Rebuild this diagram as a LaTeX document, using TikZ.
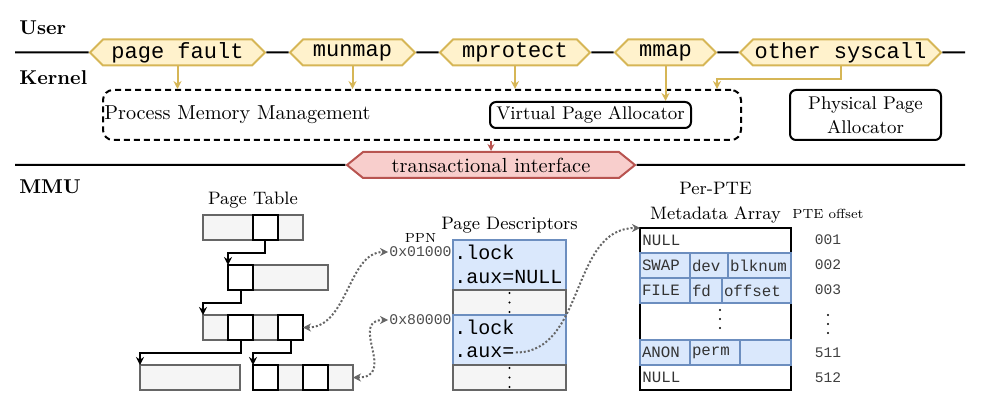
\documentclass[tikz,border=0pt]{standalone}
\usepackage{fontspec}
\setmonofont{Liberation Mono}
\usepackage{tikz}
\usetikzlibrary{arrows.meta, positioning, shapes.symbols, calc}

\definecolor{callfill}{HTML}{FFF2CC}
\definecolor{calldraw}{HTML}{D6B656}
\definecolor{txfill}{HTML}{F8CECC}
\definecolor{txdraw}{HTML}{B85450}
\definecolor{descfill}{HTML}{DAE8FC}
\definecolor{descdraw}{HTML}{6C8EBF}
\definecolor{pagefill}{HTML}{F5F5F5}
\definecolor{pagedraw}{HTML}{666666}

\begin{document}
\begin{tikzpicture}[x=0.5pt, y=-0.5pt,
        layer/.style={anchor=west, inner sep=0pt, font=\bfseries\fontsize{10}{12}\selectfont},
        syscall/.style={signal, signal to=east and west, signal pointer angle=90, draw=calldraw, fill=callfill, line width=1pt, minimum height=13pt, inner sep=0pt, font=\ttfamily\fontsize{11}{13}\selectfont},
        txbox/.style={signal, signal to=east and west, signal pointer angle=78, draw=txdraw, fill=txfill, line width=1pt, minimum height=13pt, inner sep=0pt, font=\fontsize{10.2}{12}\selectfont},
        box/.style={draw, rounded corners=3pt, line width=1pt, align=center, inner sep=0pt, font=\fontsize{9.2}{12}\selectfont},
        dashedbox/.style={draw, dashed, dash pattern=on 3pt off 2pt, rounded corners=5pt, line width=1pt, inner sep=0pt},
        callarrow/.style={-{Stealth[length=4pt, width=4pt]}, draw=calldraw, line width=1pt},
        txarrow/.style={-{Stealth[length=3.5pt, width=3.5pt]}, draw=txdraw, line width=1pt},
        ptrow/.style={draw=pagedraw, fill=pagefill, line width=1pt, minimum width=50pt, minimum height=12.5pt, inner sep=0pt, outer sep=0pt},
        ptentry/.style={draw, fill=white, line width=1pt, minimum size=12.5pt, inner sep=0pt, outer sep=0pt},
        ptarrow/.style={-{Stealth[length=4pt, width=4pt]}, line width=1pt},
        heading/.style={font=\fontsize{9}{12.5}\selectfont, inner sep=1pt, align=center},
        small/.style={font=\fontsize{6.6}{8}\selectfont, inner sep=0.5pt},
        descbox/.style={draw=descdraw, fill=descfill, line width=1pt, minimum width=56.5pt, minimum height=25pt, inner sep=0pt, outer sep=0pt},
        descgap/.style={draw=pagedraw, fill=pagefill, line width=1pt, minimum width=56.5pt, minimum height=12.5pt, inner sep=0pt, outer sep=0pt},
        field/.style={anchor=west, inner sep=0.5pt, font=\ttfamily\fontsize{10}{12}\selectfont},
        ppn/.style={anchor=east, inner sep=0.5pt, text=black!70, font=\ttfamily\fontsize{7.4}{9}\selectfont},
        mcell/.style={draw=descdraw, fill=descfill, line width=1pt, text width=#1, minimum height=12.5pt, inner xsep=1pt, inner ysep=0pt, outer sep=0pt, align=left, text=black!80, font=\ttfamily\fontsize{7.9}{9}\selectfont},
        mtext/.style={anchor=west, inner sep=1pt, text=black!80, font=\ttfamily\fontsize{7.9}{9}\selectfont},
        offset/.style={inner sep=0.5pt, text=black!75, font=\ttfamily\fontsize{7.3}{9}\selectfont},
        dotlink/.style={draw=pagedraw, line width=1pt, dash pattern=on 1pt off 1pt},
        dotdouble/.style={dotlink, {Stealth[length=4pt, width=4pt]}-{Stealth[length=4pt, width=4pt]}},
        dotarrow/.style={dotlink, -{Stealth[length=4pt, width=4pt]}}
    ]
    \useasboundingbox (0,0) rectangle (994,411);

    % Layers
    \node[layer] (user) at (19,27.5) {User};
    \node[layer] (kernel) at (19,77.5) {Kernel};
    \node[layer] (mmu) at (19,187) {MMU};
    \coordinate (ul) at (15,52.5);
    \coordinate (ur) at (965,52.5);
    \coordinate (kl) at (15,165);
    \coordinate (kr) at (965,165);

    % System calls
    \node[syscall, minimum width=87.5pt] (pf) at (177.5,52.5) {page fault};
    \node[syscall, minimum width=62.5pt] (munmap) at (352.5,52.5) {munmap};
    \node[syscall, minimum width=75pt] (mprotect) at (515,52.5) {mprotect};
    \node[syscall, minimum width=50.5pt] (mmap) at (665.5,52.5) {mmap};
    \node[syscall, minimum width=100.5pt] (other) at (840.5,52.5) {other syscall};
    \draw[line width=1pt] (ul) -- (pf) -- (munmap) -- (mprotect) -- (mmap) -- (other) -- (ur);

    % Kernel
    \node[dashedbox, minimum width=319pt, minimum height=25pt] (pmm) at (422,115) {};
    \node[anchor=west, inner sep=1pt, font=\fontsize{10.1}{12}\selectfont] (pmmtext) at (pmm.west) {Process Memory Management};
    \node[box, minimum width=100.5pt, minimum height=13pt] (vpa) at (590.5,115) {Virtual Page Allocator};
    \node[box, minimum width=75.5pt, minimum height=25pt] (ppa) at (865.5,115) {Physical Page\\Allocator};
    \coordinate (pmmin) at ($(pmm.north east)+(-25,0)$);

    \draw[callarrow] (pf.south) -- (pf.south |- pmm.north);
    \draw[callarrow] (munmap.south) -- (munmap.south |- pmm.north);
    \draw[callarrow] (mprotect.south) -- (mprotect.south |- pmm.north);
    \draw[callarrow] (mmap.south) -- (mmap.south |- vpa.north);
    \draw[callarrow] (other.south) -- ++(0,13) -| (pmmin);

    % Transactional interface
    \node[txbox, minimum width=144pt] (trans) at (491,165) {transactional interface};
    \draw[line width=1pt] (kl) -- (trans) -- (kr);
    \draw[txarrow] (trans.north |- pmm.south) -- (trans.north);

    % Page table
    \node[ptrow] (r1) at (253,227.5) {};
    \node[ptentry] (e1) at (265,227.5) {};
    \node[ptrow] (r2) at (278,277.5) {};
    \node[ptentry, anchor=west] (e2) at (r2.west) {};
    \node[ptrow] (r3) at (253,327.5) {};
    \node[ptentry] (e3a) at (240.5,327.5) {};
    \node[ptentry, anchor=east] (e3b) at (r3.east) {};
    \node[ptrow] (r4a) at (190,377.5) {};
    \node[ptrow] (r4b) at (303,377.5) {};
    \node[ptentry, anchor=west] (e4a) at (r4b.west) {};
    \node[ptentry] (e4b) at (315.5,377.5) {};
    \node[heading, above=2pt of r1] (pttitle) {Page Table};

    \draw[ptarrow] (e1.south) -- ++(0,12.5) -| (r2.north west);
    \draw[ptarrow] (e2.south) -- ++(0,12.5) -| (r3.north west);
    \draw[ptarrow] (e3a.south) -- ++(0,12.5) -| (r4a.north west);
    \draw[ptarrow] (e3b.south) -- ++(0,12.5) -| (r4b.north west);

    % Page descriptors
    \node[descbox] (pd1) at (509.5,265) {};
    \node[descgap, below=0pt of pd1] (gap1) {};
    \node[descbox, below=0pt of gap1] (pd2) {};
    \node[descgap, below=0pt of pd2] (gap2) {};
    \node[field] (lock1) at ([yshift=6.25pt]pd1.west) {.lock};
    \node[field] (aux1) at ([yshift=-6.25pt]pd1.west) {.aux=NULL};
    \node[field] (lock2) at ([yshift=6.25pt]pd2.west) {.lock};
    \node[field] (aux2) at ([yshift=-6.25pt]pd2.west) {.aux=};
    \foreach \g in {gap1, gap2}
        \foreach \d in {-9.5,0,9.5}
            \fill ($(\g.center)+(0,\d)$) circle (0.6pt);
    \node[heading, above=2pt of pd1] (pdtitle) {Page Descriptors};
    \node[ppn] (ppn1) at ([yshift=-6pt]pd1.north west) {0x01000};
    \node[ppn] (ppn2) at ([yshift=-2.5pt]pd2.north west) {0x80000};
    \node[small, above=1pt of ppn1] (ppnlabel) {PPN};

    % Per-PTE metadata array
    \node[draw, line width=1pt, minimum width=75.5pt, minimum height=81pt, inner sep=0pt, outer sep=0pt] (meta) at (715.5,309) {};
    \node[mcell=23pt, anchor=north west] (swap) at ($(meta.north west)+(0,25)$) {SWAP};
    \node[mcell=17pt, right=0pt of swap] (dev) {dev};
    \node[mcell=29.5pt, right=0pt of dev] (blknum) {blknum};
    \node[mcell=23pt, below=0pt of swap] (file) {FILE};
    \node[mcell=14pt, right=0pt of file] (fd) {fd};
    \node[mcell=32.5pt, right=0pt of fd] (foff) {offset};
    \node[mcell=23pt, anchor=south west] (anon) at ($(meta.south west)+(0,-25)$) {ANON};
    \node[mcell=23pt, right=0pt of anon] (perm) {perm};
    \node[mcell=23.5pt, right=0pt of perm] (spare) {};
    \node[mtext] (null1) at ($(meta.north west)+(0,12.5)$) {NULL};
    \node[mtext] (null2) at ($(meta.south west)+(0,-12.5)$) {NULL};
    \foreach \d in {-9,0,9}
        \fill ($(720,319)+(0,\d)$) circle (0.6pt);
    \node[heading, above=1pt of meta] (metatitle) {Per-PTE\\Metadata Array};

    % PTE offsets
    \node[small] (offtitle) at (828,214) {PTE offset};
    \node[offset] (o1) at (828,240) {001};
    \node[offset] (o2) at (828,265) {002};
    \node[offset] (o3) at (828,290) {003};
    \foreach \d in {-9,0,9}
        \fill ($(828,324)+(0,\d)$) circle (0.6pt);
    \node[offset] (o511) at (828,353) {511};
    \node[offset] (o512) at (828,378) {512};

    % Links
    \draw[dotdouble] (e3b.east) .. controls +(45,0) and +(-40,0) .. (ppn1.west);
    \draw[dotdouble] (r4b.east) .. controls +(45,0) and +(-40,0) .. (ppn2.west);
    \draw[dotarrow] (aux2.east) .. controls +(70,0) and +(-70,0) .. (meta.north west);

\end{tikzpicture}
\end{document}
